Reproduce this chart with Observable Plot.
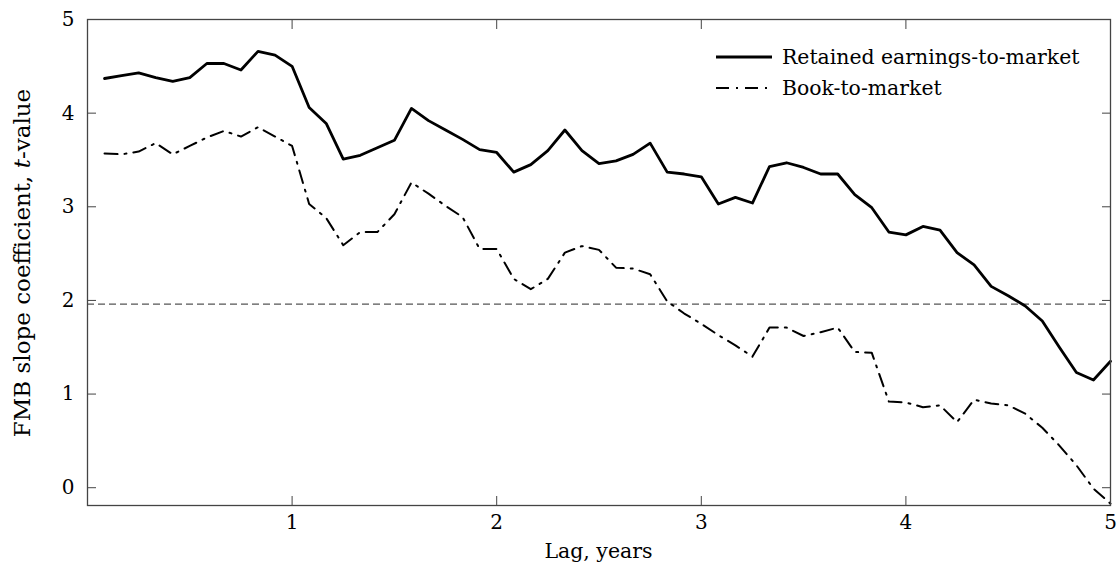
<!DOCTYPE html>
<html><head><meta charset="utf-8">
<script src="https://cdn.jsdelivr.net/npm/d3@7"></script>
<script src="https://cdn.jsdelivr.net/npm/@observablehq/plot@0.6"></script>
<style>body{margin:0;background:#fff}</style>
</head><body><div id="chart"></div>
<script>
// Lag in months (1..60); plotted as years
const lagMonths = d3.range(1, 61);
const retainedEarnings = [4.37,4.40,4.43,4.38,4.34,4.38,4.53,4.53,4.46,4.66,4.62,4.50,
  4.06,3.89,3.51,3.55,3.63,3.71,4.05,3.92,3.82,3.72,3.61,3.58,
  3.37,3.45,3.60,3.82,3.60,3.46,3.49,3.56,3.68,3.37,3.35,3.32,
  3.03,3.10,3.04,3.43,3.47,3.42,3.35,3.35,3.13,2.99,2.73,2.70,
  2.79,2.75,2.51,2.38,2.15,2.05,1.94,1.78,1.50,1.23,1.15,1.35];
const bookToMarket = [3.57,3.56,3.59,3.68,3.56,3.65,3.74,3.81,3.75,3.85,3.75,3.65,
  3.03,2.88,2.59,2.73,2.73,2.92,3.26,3.14,3.01,2.89,2.55,2.55,
  2.23,2.12,2.23,2.51,2.58,2.54,2.35,2.34,2.28,1.99,1.86,1.75,
  1.63,1.52,1.40,1.71,1.71,1.62,1.66,1.71,1.45,1.44,0.92,0.91,
  0.86,0.88,0.70,0.94,0.90,0.88,0.79,0.64,0.45,0.24,-0.01,-0.17];
const xTicks = [1, 2, 3, 4, 5];
const yTicks = [0, 1, 2, 3, 4, 5];
const threshold = [1.96];
const seriesNames = ["Retained earnings-to-market", "Book-to-market"];
const xLabel = "Lag, years";

const reData = lagMonths.map((m, i) => ({lag: m / 12, t: retainedEarnings[i]}));
const bmData = lagMonths.map((m, i) => ({lag: m / 12, t: bookToMarket[i]}));

const FONT = "DejaVu Serif";
const FS = 20;
const AX = "#444";
const dashDot = "13,7,2,7";

const chart = Plot.plot({
  width: 1117, height: 567,
  marginLeft: 87, marginRight: 7, marginTop: 19, marginBottom: 62,
  style: {fontFamily: FONT, fontSize: FS + "px", background: "#fff", color: "#000"},
  x: {domain: [0, 5]},
  y: {domain: [-0.19, 5]},
  marks: [
    Plot.ruleY(threshold, {stroke: "#555", strokeWidth: 1.2, strokeDasharray: "7,4"}),
    Plot.line(bmData, {x: "lag", y: "t", stroke: "#000", strokeWidth: 2, strokeDasharray: dashDot}),
    Plot.line(reData, {x: "lag", y: "t", stroke: "#000", strokeWidth: 2.8}),
    Plot.frame({stroke: AX, strokeWidth: 1.3}),
    Plot.axisX({ticks: xTicks, anchor: "bottom", tickSize: -9, stroke: AX, tickFormat: () => "", label: null}),
    Plot.axisX({ticks: xTicks, anchor: "top", tickSize: -9, stroke: AX, tickFormat: () => "", label: null}),
    Plot.axisY({ticks: yTicks, anchor: "left", tickSize: -9, stroke: AX, tickFormat: () => "", label: null}),
    Plot.axisY({ticks: yTicks, anchor: "right", tickSize: -9, stroke: AX, tickFormat: () => "", label: null}),
    Plot.axisX({ticks: xTicks, anchor: "bottom", tickSize: 0, tickPadding: 9, fontSize: FS, fill: "#000", tickFormat: "d", label: null}),
    Plot.axisY({ticks: yTicks, anchor: "left", tickSize: 0, tickPadding: 13, fontSize: FS, fill: "#000", tickFormat: "d", label: null})
  ]
});
document.getElementById("chart").appendChild(chart);

// Axis titles and in-plot legend
const svg = d3.select(chart);
const ann = svg.append("g").attr("font-family", FONT).attr("font-size", FS).attr("fill", "#000");
ann.append("text").attr("x", 598.5).attr("y", 558).attr("text-anchor", "middle").attr("font-size", 20.5).text(xLabel);
const yl = ann.append("text").attr("transform", "translate(30,263) rotate(-90)")
  .attr("text-anchor", "middle").attr("font-size", 23);
yl.append("tspan").text("FMB slope coefficient, ");
yl.append("tspan").attr("font-style", "italic").text("t");
yl.append("tspan").text("-value");

const leg = ann.append("g").attr("text-anchor", "start").attr("font-size", 20.4);
const rows = [
  {name: seriesNames[0], w: 2.8, dash: null, y: 57},
  {name: seriesNames[1], w: 2, dash: dashDot, y: 88}
];
rows.forEach(r => {
  leg.append("line").attr("x1", 716).attr("x2", 772).attr("y1", r.y).attr("y2", r.y)
    .attr("stroke", "#000").attr("stroke-width", r.w).attr("stroke-dasharray", r.dash);
  leg.append("text").attr("x", 782).attr("y", r.y + 7).attr("text-anchor", "start").text(r.name);
});
</script></body></html>
